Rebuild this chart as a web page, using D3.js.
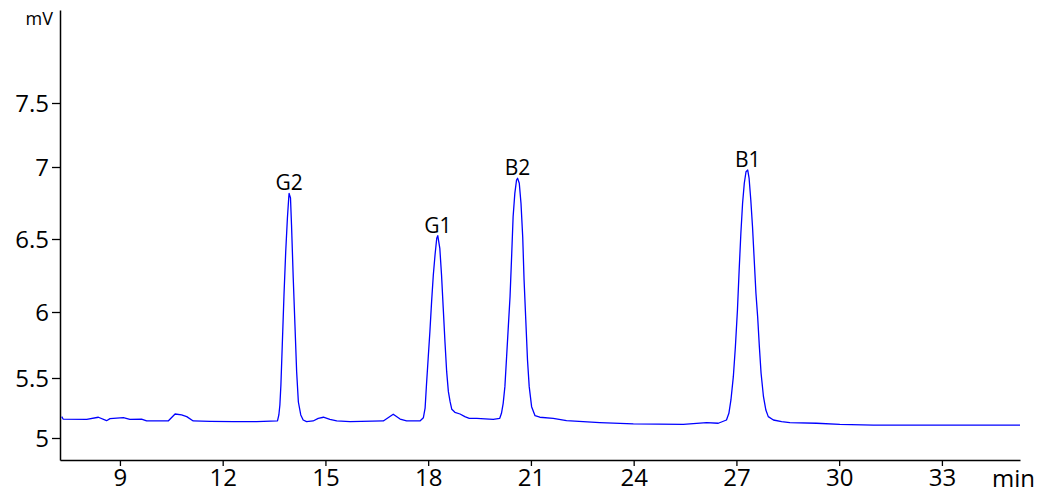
<!DOCTYPE html>
<html>
<head>
<meta charset="utf-8">
<script src="https://cdn.jsdelivr.net/npm/d3@7"></script>
<style>
  html, body { margin: 0; padding: 0; background: #fff; }
  svg { display: block; }
  text { font-family: "Open Sans", "Noto Sans", sans-serif; fill: #000; }
</style>
</head>
<body>
<svg id="chart" width="1058" height="500"></svg>
<script>
// ---- data ----
const timeMin = [
  7.30, 7.34, 8.03, 8.37, 8.61, 8.71, 9.10, 9.29, 9.63, 9.78,
  10.41, 10.61, 10.80, 10.95, 11.14, 11.63, 12.31, 12.99, 13.60,
  13.64, 13.67, 13.70, 13.74, 13.79, 13.84, 13.89, 13.93, 13.94, 13.98,
  14.01, 14.06, 14.11, 14.16, 14.21, 14.28, 14.35, 14.45, 14.64, 14.79,
  14.94, 15.13, 15.33, 15.72, 16.69, 16.98, 17.18, 17.37, 17.76, 17.86,
  17.91, 17.95, 18.00, 18.05, 18.10, 18.15, 18.20, 18.25, 18.28, 18.34,
  18.39, 18.44, 18.49, 18.54, 18.59, 18.64, 18.69, 18.78, 18.93, 19.07,
  19.20, 19.42, 19.90, 20.09,
  20.14, 20.19, 20.24, 20.29, 20.34, 20.39, 20.44, 20.48, 20.53, 20.58,
  20.61, 20.66, 20.71, 20.76, 20.80, 20.85, 20.90, 20.95, 21.02, 21.12,
  21.26, 21.65, 22.04, 23.01, 23.99, 25.45, 26.13, 26.47,
  26.71, 26.78, 26.84, 26.91, 26.97, 27.03, 27.08, 27.13, 27.18, 27.23,
  27.28, 27.33, 27.37, 27.42, 27.47, 27.52, 27.57, 27.62, 27.67, 27.72,
  27.79, 27.86, 27.93, 28.08, 28.32, 28.56, 29.34, 30.02, 31.00, 32.94, 35.28
];
const signalMv = [
  5.178, 5.158, 5.156, 5.173, 5.144, 5.161, 5.169, 5.156, 5.158, 5.142,
  5.142, 5.200, 5.192, 5.178, 5.142, 5.139, 5.136, 5.136, 5.142,
  5.192, 5.275, 5.442, 5.750, 6.116, 6.411, 6.646, 6.792, 6.817, 6.785,
  6.597, 6.233, 5.902, 5.545, 5.300, 5.192, 5.150, 5.136, 5.142, 5.164,
  5.173, 5.156, 5.142, 5.136, 5.142, 5.198, 5.158, 5.142, 5.142, 5.169,
  5.248, 5.442, 5.649, 5.851, 6.071, 6.253, 6.390, 6.505, 6.523, 6.436,
  6.253, 6.025, 5.775, 5.548, 5.386, 5.303, 5.239, 5.214, 5.200, 5.178,
  5.164, 5.164, 5.156, 5.164,
  5.206, 5.289, 5.428, 5.661, 5.889, 6.105, 6.402, 6.655, 6.817, 6.910,
  6.922, 6.887, 6.748, 6.516, 6.219, 5.939, 5.636, 5.428, 5.261, 5.186,
  5.173, 5.164, 5.144, 5.128, 5.117, 5.114, 5.128, 5.123,
  5.150, 5.206, 5.317, 5.510, 5.737, 6.014, 6.288, 6.540, 6.748, 6.887,
  6.967, 6.979, 6.922, 6.771, 6.585, 6.356, 6.128, 5.964, 5.737, 5.536,
  5.344, 5.233, 5.178, 5.150, 5.136, 5.128, 5.123, 5.114, 5.108, 5.108, 5.108
];
const peakNames = ["G2", "G1", "B2", "B1"];
const peakTimes = [13.94, 18.28, 20.61, 27.33];
const xTicks = [9, 12, 15, 18, 21, 24, 27, 30, 33];
const yTicks = [5, 5.5, 6, 6.5, 7, 7.5];
const xDomain = [7.25, 35.28];
const yDomainStops = [4.817, 5, 5.5, 6, 6.5, 7, 7.5, 8.227];
const xUnit = "min";
const yUnit = "mV";

// ---- drawing ----
const svg = d3.select("#chart");
const x = d3.scaleLinear().domain(xDomain).range([60, 1020]);
// the reference's value axis is not evenly spaced; follow its tick positions
const y = d3.scaleLinear().domain(yDomainStops)
  .range([460, 438, 378, 312, 239, 167, 103, 10]);

const xAxis = d3.axisBottom(x).tickValues(xTicks).tickSizeInner(6).tickSizeOuter(0)
  .tickPadding(1).tickFormat(d3.format("d"));
const gx = svg.append("g").attr("transform", `translate(0,${y(yDomainStops[0])})`).call(xAxis);
gx.select(".domain").attr("stroke", "#000").attr("stroke-width", 1.5);
gx.selectAll(".tick line").attr("stroke", "#000").attr("stroke-width", 1.3);
gx.selectAll(".tick text").attr("font-size", 24).attr("font-family", "Open Sans")
  .attr("dy", "0.78em").attr("fill", "#000");

const yAxis = d3.axisLeft(y).tickValues(yTicks).tickSizeInner(8).tickSizeOuter(0)
  .tickPadding(3).tickFormat(d => String(d));
const gy = svg.append("g").attr("transform", `translate(${x(xDomain[0])},0)`).call(yAxis);
gy.select(".domain").attr("stroke", "#000").attr("stroke-width", 1.5);
gy.selectAll(".tick line").attr("stroke", "#000").attr("stroke-width", 1.3);
gy.selectAll(".tick text").attr("font-size", 24).attr("font-family", "Open Sans")
  .attr("dy", "0.36em").attr("fill", "#000");

// unit labels
svg.append("text").attr("x", x(xDomain[0]) - 7).attr("y", 25)
  .attr("text-anchor", "end").attr("font-size", 18).text(yUnit);
svg.append("text").attr("x", x(xDomain[1]) - 28).attr("y", 487)
  .attr("text-anchor", "start").attr("font-size", 24).text(xUnit);

// trace
const pts = timeMin.map((t, i) => [t, signalMv[i]]);
const line = d3.line().x(d => x(d[0])).y(d => y(d[1]));
svg.append("path").datum(pts)
  .attr("fill", "none").attr("stroke", "#0000ff").attr("stroke-width", 1.3)
  .attr("stroke-linejoin", "round").attr("d", line);

// peak labels
peakNames.forEach((name, k) => {
  const i = d3.minIndex(timeMin, t => Math.abs(t - peakTimes[k]));
  svg.append("text")
    .attr("x", x(timeMin[i]))
    .attr("y", y(signalMv[i]) - 3)
    .attr("text-anchor", "middle").attr("font-size", 21)
    .text(name);
});
</script>
</body>
</html>
